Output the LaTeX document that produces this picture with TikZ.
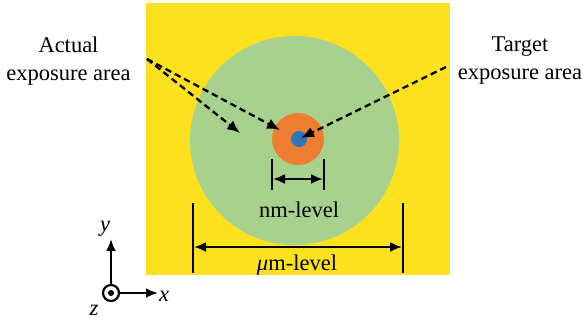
\documentclass[tikz,border=0pt]{standalone}
\usepackage{fontspec}
\setmainfont{Liberation Serif}
\usetikzlibrary{arrows.meta}
\definecolor{bgyellow}{HTML}{FDE11E}
\definecolor{umgreen}{HTML}{A9D18E}
\definecolor{nmorange}{HTML}{ED7D31}
\definecolor{tgblue}{HTML}{2E75B6}
\tikzset{
  lbl/.style={font=\rmfamily\fontsize{22.5}{28}\selectfont, inner sep=0pt, align=center},
  dimlbl/.style={font=\rmfamily\fontsize{22.5}{28}\selectfont, inner sep=0pt},
  pointer/.style={line width=2.3pt, dash pattern=on 6.5pt off 4pt, -{Latex[length=13pt,width=11pt]}},
  dimarrow/.style={line width=2.2pt, {Latex[length=12pt,width=10pt]}-{Latex[length=12pt,width=10pt]}},
  tick/.style={line width=2pt},
  axis/.style={line width=2.6pt, -{Latex[length=12pt,width=10pt]}}
}
\begin{document}
\begin{tikzpicture}[x=1pt,y=-1pt]
\useasboundingbox (0,0) rectangle (584,327);
% background field
\fill[bgyellow] (146,3) rectangle (450,275);
\fill[umgreen] (294.5,140.5) ellipse [x radius=104.5, y radius=104.5];
\fill[nmorange] (298,139) circle [radius=26];
\fill[tgblue] (299,139) circle [radius=8];
% labels
\node[lbl] (actual) at (68.5,61) {Actual\\exposure area};
\node[lbl] (target) at (520,61) {Target\\exposure area};
% pointer arrows
\coordinate (astart) at (147,59);
\coordinate (aend1) at (240,133);
\coordinate (aend2) at (280,130);
\coordinate (tstart) at (446,67);
\coordinate (tend) at (301,138);
\draw[pointer] (astart) -- (aend1);
\draw[pointer] (astart) -- (aend2);
\draw[pointer] (tstart) -- (tend);
% nm dimension
\coordinate (nmL1) at (272,159); \coordinate (nmL2) at (272,190);
\coordinate (nmR1) at (324,159); \coordinate (nmR2) at (324,190);
\coordinate (nmA) at (273,179); \coordinate (nmB) at (323,179);
\draw[tick] (nmL1) -- (nmL2);
\draw[tick] (nmR1) -- (nmR2);
\draw[dimarrow] (nmA) -- (nmB);
\node[dimlbl, anchor=base] (nmlbl) at (299,217) {nm-level};
% um dimension
\coordinate (umL1) at (193,203); \coordinate (umL2) at (193,273);
\coordinate (umR1) at (403,203); \coordinate (umR2) at (403,273);
\coordinate (umA) at (194,247); \coordinate (umB) at (402,247);
\draw[tick] (umL1) -- (umL2);
\draw[tick] (umR1) -- (umR2);
\draw[dimarrow] (umA) -- (umB);
\node[dimlbl, anchor=base] (umlbl) at (297,270) {\textit{μ}m-level};
% axes
\node[circle, draw, line width=2.2pt, minimum size=16pt, inner sep=0pt] (orig) at (111,293) {};
\fill (orig.center) circle [radius=3];
\coordinate (ytip) at (111,239);
\coordinate (xtip) at (158,293);
\draw[axis] (orig.north) -- (ytip);
\draw[axis] (orig.east) -- (xtip);
\node[dimlbl] (ylbl) at (105,229) {\textit{y}};
\node[dimlbl] (xlbl) at (164,296) {\textit{x}};
\node[dimlbl] (zlbl) at (94,310) {\textit{z}};
\end{tikzpicture}
\end{document}
